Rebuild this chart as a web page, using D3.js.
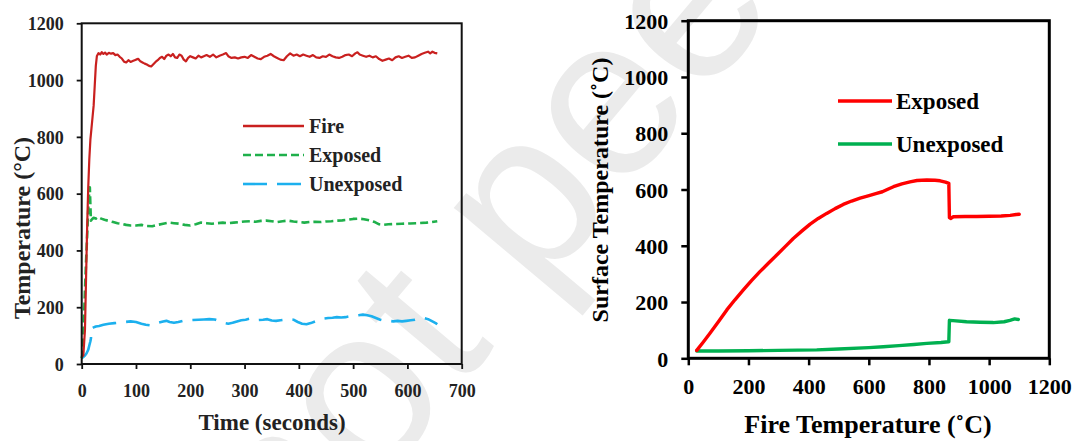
<!DOCTYPE html>
<meta charset="utf-8">
<style>
    body { margin: 0; background: #fff; }
    text { font-family: "Liberation Serif", "Times New Roman", serif; font-weight: bold; }
    .line { fill: none; stroke-linejoin: round; stroke-linecap: butt; }
</style>
<body>
<script src="https://cdn.jsdelivr.net/npm/d3@7"></script>
<script>

    var width = 1078,
        height = 441;

    // left panel: temperature vs time (seconds, degC)
    var fireTime = [0, 3, 6, 8, 10, 12, 14, 16, 18, 20, 22, 24, 26, 28, 31, 34, 37, 40, 43, 46, 50, 54, 58, 62, 66, 70, 74, 78, 82, 86, 90, 95, 100, 104, 108, 112, 116, 120, 124, 128, 132, 136, 140, 144, 148, 152, 156, 160, 164, 168, 172, 176, 180, 184, 188, 192, 196, 200, 205, 210, 215, 220, 225, 230, 236, 242, 248, 254, 260, 266, 270, 276, 282, 288, 294, 300, 306, 312, 318, 324, 330, 336, 342, 348, 354, 360, 366, 372, 378, 384, 390, 396, 402, 408, 414, 420, 426, 432, 438, 444, 450, 456, 462, 468, 474, 480, 486, 492, 498, 504, 508, 512, 518, 524, 530, 536, 542, 548, 554, 560, 566, 572, 578, 584, 590, 596, 602, 608, 614, 620, 626, 632, 638, 642, 646, 650, 655];
    var fireTemp = [25, 30, 120, 300, 480, 620, 720, 790, 830, 870, 910, 980, 1050, 1085, 1095, 1090, 1098, 1092, 1097, 1090, 1096, 1093, 1095, 1088, 1090, 1082, 1076, 1065, 1062, 1070, 1064, 1068, 1072, 1075, 1066, 1062, 1058, 1055, 1050, 1048, 1056, 1064, 1070, 1078, 1082, 1074, 1086, 1090, 1084, 1092, 1080, 1078, 1090, 1086, 1072, 1066, 1078, 1084, 1080, 1076, 1086, 1080, 1084, 1088, 1082, 1090, 1080, 1086, 1090, 1095, 1084, 1078, 1080, 1076, 1080, 1082, 1078, 1088, 1082, 1076, 1074, 1082, 1086, 1092, 1084, 1078, 1072, 1070, 1084, 1094, 1086, 1090, 1084, 1090, 1086, 1082, 1088, 1080, 1078, 1084, 1082, 1090, 1084, 1080, 1078, 1082, 1088, 1090, 1084, 1094, 1098, 1090, 1086, 1082, 1086, 1080, 1084, 1074, 1068, 1072, 1076, 1070, 1080, 1084, 1078, 1082, 1086, 1078, 1080, 1086, 1092, 1096, 1100, 1094, 1100, 1096, 1094];

    var exposedTime = [0, 2, 4, 6, 8, 10, 12, 14, 15, 16, 17, 19, 22, 26, 30, 36, 42, 50, 58, 66, 74, 82, 90, 100, 110, 120, 130, 140, 150, 160, 170, 180, 190, 200, 210, 220, 230, 240, 250, 260, 270, 280, 290, 300, 310, 320, 330, 340, 350, 360, 370, 380, 390, 400, 410, 420, 430, 440, 450, 460, 470, 480, 490, 500, 510, 520, 530, 540, 548, 556, 565, 575, 590, 605, 620, 635, 645, 655];
    var exposedTemp = [20, 40, 150, 260, 360, 450, 540, 610, 622, 560, 505, 510, 515, 512, 518, 512, 508, 504, 500, 496, 494, 490, 488, 488, 490, 486, 485, 490, 494, 498, 496, 494, 490, 488, 492, 498, 496, 494, 496, 498, 496, 498, 500, 502, 503, 501, 504, 505, 503, 500, 503, 505, 502, 500, 498, 500, 501, 500, 502, 503, 505, 506, 508, 511, 512, 510, 506, 500, 492, 490, 492, 493, 494, 495, 496, 498, 500, 503];

    var unexposedTime = [0, 3, 6, 9, 12, 14, 16, 17, 18, 21, 26, 32, 40, 50, 60, 70, 80, 90, 100, 110, 118, 126, 134, 142, 150, 156, 162, 170, 178, 186, 195, 205, 215, 225, 235, 245, 255, 262, 270, 278, 286, 294, 302, 310, 318, 326, 334, 342, 350, 358, 366, 374, 382, 390, 398, 406, 414, 422, 430, 438, 446, 454, 462, 470, 478, 486, 494, 502, 510, 518, 526, 534, 542, 550, 558, 566, 574, 582, 590, 598, 606, 614, 622, 630, 638, 646, 652, 655];
    var unexposedTemp = [20, 25, 30, 38, 50, 65, 80, 90, 125, 128, 132, 134, 138, 142, 144, 146, 148, 150, 148, 142, 138, 136, 140, 146, 150, 152, 148, 145, 148, 152, 154, 155, 156, 157, 158, 157, 150, 145, 142, 145, 150, 154, 156, 160, 160, 155, 156, 158, 153, 152, 154, 156, 158, 156, 148, 142, 140, 144, 150, 156, 160, 162, 163, 165, 164, 165, 168, 170, 172, 174, 172, 168, 162, 156, 152, 152, 150, 152, 150, 152, 154, 156, 160, 162, 158, 150, 144, 140];

    // right panel: surface temperature vs fire temperature (degC)
    var exposedFire = [28, 50, 72, 100, 128, 155, 183, 210, 238, 266, 294, 322, 349, 377, 405, 432, 460, 488, 515, 543, 571, 598, 626, 645, 665, 682, 710, 737, 760, 793, 820, 837, 855, 866, 868, 872, 881, 920, 959, 1000, 1040, 1070, 1090, 1100];
    var exposedSurf = [28, 58, 89, 130, 172, 208, 243, 276, 308, 338, 367, 397, 426, 452, 477, 497, 515, 532, 547, 559, 569, 577, 586, 592, 602, 610, 620, 627, 632, 634, 633, 631, 626, 622, 500, 497, 503, 504, 504, 505, 506, 508, 511, 512];

    var unexposedFire = [28, 100, 200, 300, 427, 500, 600, 648, 700, 750, 793, 840, 864, 866, 868, 880, 925, 970, 1014, 1050, 1069, 1085, 1097];
    var unexposedSurf = [26, 26, 27, 28, 30, 33, 38, 41, 45, 49, 53, 56, 59, 59, 135, 134, 130, 128, 127, 130, 135, 140, 138];

    var leftTicksX = [0, 100, 200, 300, 400, 500, 600, 700],
        leftTicksY = [0, 200, 400, 600, 800, 1000, 1200],
        rightTicks = [0, 200, 400, 600, 800, 1000, 1200];

    function zip(a, b) { return a.map(function(d, i) { return [d, b[i]]; }); }

    var svg = d3.select("body").append("svg")
        .attr("width", width)
        .attr("height", height);

    // faint watermark behind everything
    svg.append("text")
        .attr("transform", "translate(292,588) rotate(-50)")
        .style("font-family", "'Liberation Sans', Arial, sans-serif")
        .style("font-weight", "normal")
        .style("font-size", "228px")
        .style("fill", "#ebebeb")
        .text("not peer reviewed");

    // tidy an axis: drop the domain path, set tick and label styles
    function styleAxis(a, color, width, size, fill) {
        a.attr("font-family", null).attr("font-size", null);
        a.select(".domain").remove();
        a.selectAll("line").style("stroke", color).style("stroke-width", width);
        a.selectAll("text")
            .style("font-family", "'Liberation Serif', 'Times New Roman', serif")
            .style("font-weight", "bold")
            .style("font-size", size + "px").style("fill", fill);
    }

    // ---------- left panel ----------
    var x1 = d3.scaleLinear().domain([0, 700]).range([81.7, 461.7]);
    var y1 = d3.scaleLinear().domain([0, 1200]).range([364, 23.3]);

    var left = svg.append("g");

    var line1 = d3.line()
        .x(function(d) { return x1(d[0]); })
        .y(function(d) { return y1(d[1]); });

    left.append("path").attr("class", "line")
        .attr("d", line1(zip(unexposedTime, unexposedTemp)))
        .style("stroke", "#1cb0ee").style("stroke-width", 2.6)
        .style("stroke-dasharray", "24,10");

    left.append("path").attr("class", "line")
        .attr("d", line1(zip(exposedTime, exposedTemp)))
        .style("stroke", "#1fb04b").style("stroke-width", 2.6)
        .style("stroke-dasharray", "8,4");

    left.append("path").attr("class", "line")
        .attr("d", line1(zip(fireTime, fireTemp)))
        .style("stroke", "#c9201f").style("stroke-width", 2.2);

    left.append("rect")
        .attr("x", x1(0)).attr("y", y1(1200))
        .attr("width", x1(700) - x1(0)).attr("height", y1(0) - y1(1200))
        .style("fill", "none").style("stroke", "#111").style("stroke-width", 2);

    var ax1 = left.append("g")
        .attr("transform", "translate(0," + y1(0) + ")")
        .call(d3.axisBottom(x1).tickValues(leftTicksX).tickFormat(d3.format("d")).tickSize(5).tickSizeOuter(0));
    var ay1 = left.append("g")
        .attr("transform", "translate(" + x1(0) + ",0)")
        .call(d3.axisLeft(y1).tickValues(leftTicksY).tickFormat(d3.format("d")).tickSize(5).tickSizeOuter(0));

    styleAxis(ax1, "#111", 1.8, 18, "#222");
    styleAxis(ay1, "#111", 1.8, 18, "#222");
    ax1.selectAll("text").attr("y", 33).attr("dy", 0);
    ay1.selectAll("text").attr("x", -18).attr("dy", "0.35em");

    left.append("text")
        .attr("x", 272).attr("y", 430)
        .attr("text-anchor", "middle")
        .style("font-size", "23px").style("fill", "#222")
        .text("Time (seconds)");

    left.append("text")
        .attr("transform", "translate(30,228) rotate(-90)")
        .attr("text-anchor", "middle")
        .style("font-size", "24px").style("fill", "#222")
        .text("Temperature (\u00b0C)");

    var leftLegend = [
        { name: "Fire", color: "#c9201f", dash: null, y: 126 },
        { name: "Exposed", color: "#1fb04b", dash: "8,4", y: 155 },
        { name: "Unexposed", color: "#1cb0ee", dash: "24,10", y: 184 }
    ];
    leftLegend.forEach(function(d) {
        left.append("line")
            .attr("x1", 243).attr("x2", 304).attr("y1", d.y).attr("y2", d.y)
            .style("stroke", d.color).style("stroke-width", 2.6)
            .style("stroke-dasharray", d.dash);
        left.append("text")
            .attr("x", 309).attr("y", d.y).attr("dy", "0.35em")
            .style("font-size", "20px").style("fill", "#222")
            .text(d.name);
    });

    // ---------- right panel ----------
    var x2 = d3.scaleLinear().domain([0, 1200]).range([688.3, 1049.3]);
    var y2 = d3.scaleLinear().domain([0, 1200]).range([358.3, 20.7]);

    var right = svg.append("g");

    var line2 = d3.line()
        .x(function(d) { return x2(d[0]); })
        .y(function(d) { return y2(d[1]); });

    right.append("path").attr("class", "line")
        .attr("d", line2(zip(unexposedFire, unexposedSurf)))
        .style("stroke", "#00b050").style("stroke-width", 3.4).style("stroke-linecap", "round");

    right.append("path").attr("class", "line")
        .attr("d", line2(zip(exposedFire, exposedSurf)))
        .style("stroke", "#ff0000").style("stroke-width", 3.4).style("stroke-linecap", "round");

    right.append("rect")
        .attr("x", x2(0)).attr("y", y2(1200))
        .attr("width", x2(1200) - x2(0)).attr("height", y2(0) - y2(1200))
        .style("fill", "none").style("stroke", "#000").style("stroke-width", 3);

    var ax2 = right.append("g")
        .attr("transform", "translate(0," + y2(0) + ")")
        .call(d3.axisBottom(x2).tickValues(rightTicks).tickFormat(d3.format("d")).tickSize(7).tickSizeOuter(0));
    var ay2 = right.append("g")
        .attr("transform", "translate(" + x2(0) + ",0)")
        .call(d3.axisLeft(y2).tickValues(rightTicks).tickFormat(d3.format("d")).tickSize(7).tickSizeOuter(0));

    styleAxis(ax2, "#000", 2.5, 22, "#000");
    styleAxis(ay2, "#000", 2.5, 22, "#000");
    ax2.selectAll("text").attr("y", 36).attr("dy", 0);
    ay2.selectAll("text").attr("x", -20).attr("dy", "0.35em");

    right.append("text")
        .attr("x", 868).attr("y", 433)
        .attr("text-anchor", "middle")
        .style("font-size", "26px")
        .text("Fire Temperature (\u02daC)");

    right.append("text")
        .attr("transform", "translate(608,190) rotate(-90)")
        .attr("text-anchor", "middle")
        .style("font-size", "24px")
        .text("Surface Temperature (\u02daC)");

    var rightLegend = [
        { name: "Exposed", color: "#ff0000", y: 101 },
        { name: "Unexposed", color: "#00b050", y: 144 }
    ];
    rightLegend.forEach(function(d) {
        right.append("line")
            .attr("x1", 838).attr("x2", 892).attr("y1", d.y).attr("y2", d.y)
            .style("stroke", d.color).style("stroke-width", 3.4);
        right.append("text")
            .attr("x", 896).attr("y", d.y).attr("dy", "0.35em")
            .style("font-size", "23px")
            .text(d.name);
    });

</script>
